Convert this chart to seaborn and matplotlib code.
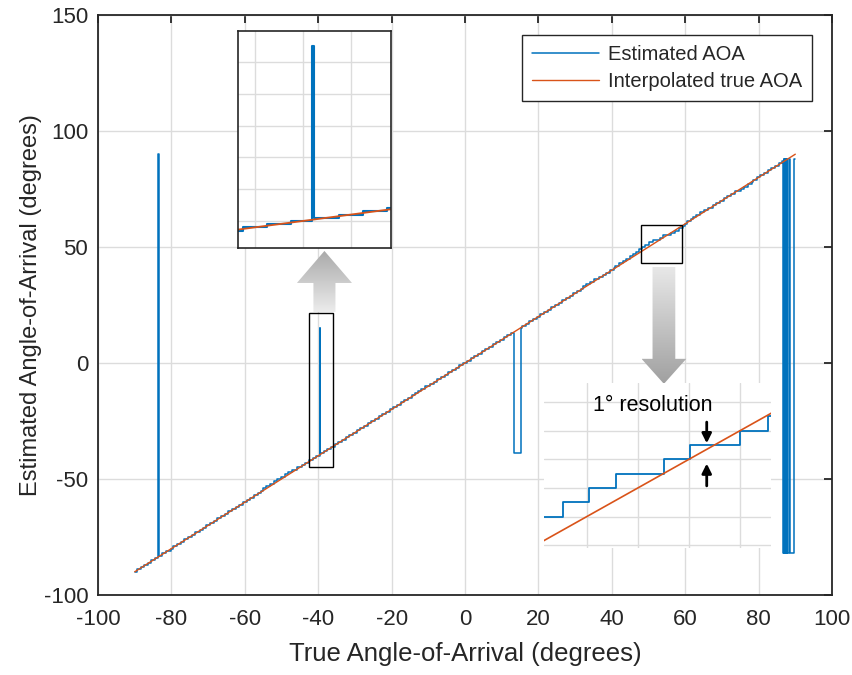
import numpy as np
import pandas as pd
import seaborn as sns
import matplotlib.pyplot as plt
from matplotlib.patches import Polygon, Rectangle
from matplotlib.ticker import MultipleLocator
from matplotlib.colors import LinearSegmentedColormap

# estimated AOA (1 degree resolution): segment start (deg) and level (deg)
est_x = [
    -89.9, -89.4, -88.2, -87.5, -86.5, -85.5, -84.5, -83.55, -83.5, -82.5,
    -81.5, -80.1, -79.5, -78.5, -77.5, -76.5, -75.5, -74.5, -73.5, -72.1,
    -71.5, -70.5, -69.5, -68.5, -67.5, -66.5, -65.5, -64.5, -63.5, -62.5,
    -61.5, -60.5, -59.5, -58.5, -57.5, -56.5, -55.5, -55.0, -54.1, -53.1,
    -52.1, -51.1, -50.1, -49.1, -48.1, -47.1, -45.7, -44.5, -43.5, -42.5,
    -41.5, -40.5, -39.6, -39.55, -38.5, -37.5, -36.5, -35.5, -34.5, -33.5,
    -32.5, -31.5, -30.5, -29.5, -28.5, -27.5, -26.5, -25.5, -24.5, -23.5,
    -22.5, -21.5, -20.5, -19.5, -18.5, -17.5, -16.5, -15.5, -14.5, -13.5,
    -12.9, -11.9, -10.9, -9.6, -8.5, -7.5, -6.5, -5.5, -4.5, -3.5,
    -2.5, -1.5, -0.5, 0.5, 1.5, 2.5, 3.5, 4.5, 5.5, 6.5,
    7.5, 8.5, 9.5, 10.5, 11.5, 12.5, 13.4, 15.3, 15.5, 16.5,
    17.5, 18.5, 19.5, 20.5, 21.5, 22.5, 23.5, 24.5, 25.5, 26.5,
    27.5, 28.5, 29.5, 30.5, 31.5, 32.1, 33.1, 34.1, 35.1, 36.5,
    37.5, 38.5, 39.5, 40.5, 41.0, 42.0, 43.0, 44.0, 45.0, 45.9,
    46.7, 47.4, 48.1, 49.06, 50.08, 51.14, 53.02, 54.04, 56.0, 57.1,
    58.3, 59.4, 60.0, 60.6, 61.5, 62.0, 63.0, 64.0, 65.0, 66.1,
    67.5, 68.5, 69.5, 70.5, 71.5, 72.5, 73.5, 75.1, 76.1, 77.1,
    78.1, 78.6, 79.5, 80.5, 81.5, 82.5, 83.5, 84.5, 85.5, 86.5,
    86.75, 86.85, 86.95, 87.1, 87.2, 87.4, 87.5, 87.7, 87.8, 88.3,
    88.55, 89.75, 89.85,
]
est_y = [
    -90, -89, -88, -87, -86, -85, -84, 90, -83, -82,
    -81, -80, -79, -78, -77, -76, -75, -74, -73, -72,
    -71, -70, -69, -68, -67, -66, -65, -64, -63, -62,
    -61, -60, -59, -58, -57, -56, -55, -54, -53, -52,
    -51, -50, -49, -48, -47, -46, -45, -44, -43, -42,
    -41, -40, 15, -39, -38, -37, -36, -35, -34, -33,
    -32, -31, -30, -29, -28, -27, -26, -25, -24, -23,
    -22, -21, -20, -19, -18, -17, -16, -15, -14, -13,
    -12, -11, -10, -9, -8, -7, -6, -5, -4, -3,
    -2, -1, 0, 1, 2, 3, 4, 5, 6, 7,
    8, 9, 10, 11, 12, 13, -39, 15, 16, 17,
    18, 19, 20, 21, 22, 23, 24, 25, 26, 27,
    28, 29, 30, 31, 32, 33, 34, 35, 36, 37,
    38, 39, 40, 41, 42, 43, 44, 45, 46, 47,
    48, 49, 50, 51, 52, 53, 54, 55, 56, 57,
    58, 59, 60, 61, 62, 63, 64, 65, 66, 67,
    68, 69, 70, 71, 72, 73, 74, 75, 76, 77,
    78, 79, 80, 81, 82, 83, 84, 85, 86, 87,
    -82, 88, -82, 88, -82, 88, -82, 88, -82, 88,
    -82, 88, 88,
]
# interpolated true AOA
true_x = [-90, 90]
true_y = [-90, 90]

x_ticks = [-100, -80, -60, -40, -20, 0, 20, 40, 60, 80, 100]
y_ticks = [-100, -50, 0, 50, 100, 150]

BLUE = '#0072BD'
RED = '#D95319'
DARK = '#262626'
GRID = '#dcdcdc'

sns.set_style('white')
plt.rcParams['font.family'] = ['Liberation Sans', 'DejaVu Sans']
plt.rcParams['axes.unicode_minus'] = False

est = pd.DataFrame({'x': est_x, 'y': est_y})
true = pd.DataFrame({'x': true_x, 'y': true_y})


def draw_lines(ax, lw_est, lw_true, labels=True):
    sns.lineplot(data=est, x='x', y='y', ax=ax, color=BLUE, lw=lw_est,
                 drawstyle='steps-post', estimator=None, sort=False,
                 label='Estimated AOA' if labels else None, legend=False)
    sns.lineplot(data=true, x='x', y='y', ax=ax, color=RED, lw=lw_true,
                 estimator=None, sort=False,
                 label='Interpolated true AOA' if labels else None, legend=False)
    ax.set_xlabel('')
    ax.set_ylabel('')


def grad_arrow(ax, cx, y_tail, y_tip, shaft_w, head_w, head_len, c_tail, c_tip):
    d = np.sign(y_tip - y_tail)
    yb = y_tip - d * head_len
    pts = [(cx - shaft_w / 2, y_tail), (cx - shaft_w / 2, yb), (cx - head_w / 2, yb),
           (cx, y_tip), (cx + head_w / 2, yb), (cx + shaft_w / 2, yb),
           (cx + shaft_w / 2, y_tail)]
    poly = Polygon(pts, closed=True, facecolor='none', edgecolor='none')
    ax.add_patch(poly)
    lo, hi = min(y_tail, y_tip), max(y_tail, y_tip)
    c_lo, c_hi = (c_tail, c_tip) if y_tip > y_tail else (c_tip, c_tail)
    cmap = LinearSegmentedColormap.from_list('g', [c_lo, c_hi])
    grad = np.linspace(0, 1, 256).reshape(-1, 1)
    im = ax.imshow(grad, extent=[cx - head_w / 2, cx + head_w / 2, lo, hi],
                   origin='lower', cmap=cmap, aspect='auto', zorder=4)
    im.set_clip_path(poly)


fig = plt.figure(figsize=(8.52, 6.75), dpi=100)
ax = fig.add_axes([98 / 852, 80 / 675, 734 / 852, 580 / 675])
draw_lines(ax, 1.1, 1.0)

ax.set_xticks(x_ticks)
ax.set_yticks(y_ticks)
ax.grid(True, color=GRID, lw=1.0)
ax.set_axisbelow(True)
for s in ax.spines.values():
    s.set_visible(True)
    s.set_color(DARK)
    s.set_linewidth(1.3)
ax.tick_params(direction='in', length=6, width=1.3, top=True, right=True,
               labelsize=16, colors=DARK)
ax.tick_params(axis='x', pad=10)
ax.tick_params(axis='y', pad=7)
ax.set_xlabel('True Angle-of-Arrival (degrees)', fontsize=18.5, color=DARK, labelpad=9)
ax.set_ylabel('Estimated Angle-of-Arrival (degrees)', fontsize=17, color=DARK, labelpad=1)

ax.legend(loc='upper right', frameon=True, fancybox=False, edgecolor=DARK,
          framealpha=1, fontsize=14.5, handlelength=3.3, handletextpad=0.45,
          borderpad=0.5, borderaxespad=1.0, labelspacing=0.4)

# zoom boxes on the main plot
ax.add_patch(Rectangle((-42.5, -44.8), 6.5, 66.4, fill=False, ec='black', lw=1.0, zorder=5))
ax.add_patch(Rectangle((48.0, 43.1), 11.1, 16.4, fill=False, ec='black', lw=1.0, zorder=5))

# gray arrows pointing to the insets
grad_arrow(ax, -38.3, 22.0, 48.3, 6.0, 15.0, 13.8, '#ececec', '#a9a9a9')
grad_arrow(ax, 54.2, 41.4, -9.0, 6.2, 12.2, 10.8, '#e8e8e8', '#a0a0a0')

ax.set_xlim(-100, 100)
ax.set_ylim(-100, 150)

# upper-left inset: spike near -40
ax1 = fig.add_axes([238.3 / 852, (675 - 247.7) / 675, 153 / 852, 216.7 / 675])
draw_lines(ax1, 1.5, 1.3, labels=False)
ax1.set_xlim(-42.7, -36.3)
ax1.set_ylim(-48.4, 19.7)
ax1.xaxis.set_major_locator(MultipleLocator(2))
ax1.yaxis.set_major_locator(MultipleLocator(10))
ax1.grid(True, color=GRID, lw=1.0)
ax1.set_axisbelow(True)
ax1.tick_params(length=0, labelbottom=False, labelleft=False)
for s in ax1.spines.values():
    s.set_visible(True)
    s.set_color(DARK)
    s.set_linewidth(1.2)

# lower-right inset: 1 degree resolution
ax2 = fig.add_axes([544 / 852, (675 - 548) / 675, 227 / 852, 165 / 675])
draw_lines(ax2, 1.3, 1.2, labels=False)
ax2.set_xlim(48.32, 57.22)
ax2.set_ylim(47.8, 59.34)
ax2.xaxis.set_major_locator(MultipleLocator(2))
ax2.yaxis.set_major_locator(MultipleLocator(2))
ax2.grid(True, color=GRID, lw=1.0)
ax2.set_axisbelow(True)
ax2.tick_params(length=0, labelbottom=False, labelleft=False)
for s in ax2.spines.values():
    s.set_visible(False)
ax2.text(52.59, 57.8, '1° resolution', fontsize=15.5, ha='center', va='center', color='black')
arrow_kw = dict(arrowstyle='-|>', color='black', lw=2.0, mutation_scale=14)
ax2.annotate('', xy=(54.7, 54.93), xytext=(54.7, 56.8), arrowprops=arrow_kw)
ax2.annotate('', xy=(54.7, 53.9), xytext=(54.7, 51.95), arrowprops=arrow_kw)

fig.savefig('out.png', dpi=100)
